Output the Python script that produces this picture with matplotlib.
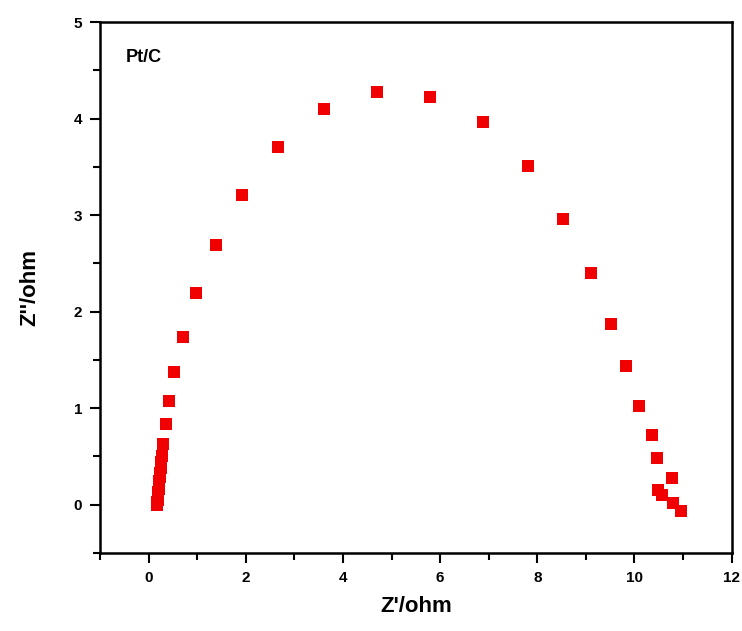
import matplotlib
matplotlib.use('Agg')
import matplotlib.pyplot as plt
from matplotlib.ticker import MultipleLocator

plt.rcParams['font.family'] = ['Liberation Sans', 'DejaVu Sans']

# Nyquist data for Pt/C
z_real = [0.17, 0.18, 0.18, 0.19, 0.19, 0.20, 0.20, 0.21, 0.22, 0.22, 0.23, 0.24, 0.25, 0.26, 0.27,
          0.30, 0.35, 0.41, 0.53, 0.70, 0.97, 1.38, 1.91, 2.67, 3.61, 4.70, 5.80, 6.88, 7.80,
          8.52, 9.11, 9.52, 9.82, 10.09, 10.36, 10.46, 10.77, 10.48, 10.56, 10.79, 10.95]
z_imag = [0.00, 0.02, 0.03, 0.05, 0.07, 0.10, 0.13, 0.16, 0.20, 0.24, 0.28, 0.33, 0.38, 0.44, 0.50,
          0.63, 0.83, 1.07, 1.37, 1.74, 2.19, 2.69, 3.21, 3.71, 4.10, 4.28, 4.22, 3.96, 3.51,
          2.96, 2.40, 1.87, 1.44, 1.02, 0.72, 0.48, 0.27, 0.15, 0.10, 0.02, -0.07]

fig = plt.figure(figsize=(7.42, 6.31), dpi=100)
ax = fig.add_axes([0.135, 0.124, 0.851, 0.841])
ax.plot(z_real, z_imag, linestyle='none', marker='s', markersize=8, color='#f00000', markeredgewidth=0)

ax.set_xlim(-1, 12)
ax.set_ylim(-0.5, 5)
ax.xaxis.set_major_locator(MultipleLocator(2))
ax.xaxis.set_minor_locator(MultipleLocator(1))
ax.yaxis.set_major_locator(MultipleLocator(1))
ax.yaxis.set_minor_locator(MultipleLocator(0.5))
ax.tick_params(which='both', direction='out', width=1.5)
ax.tick_params(which='major', length=7, labelsize=11, pad=6)
ax.tick_params(which='minor', length=5)
for lab in ax.get_xticklabels() + ax.get_yticklabels():
    lab.set_fontweight('bold')
for s in ax.spines.values():
    s.set_linewidth(1.8)

ax.set_xlabel("Z'/ohm", fontsize=16, fontweight='bold', labelpad=8)
ax.set_ylabel("Z''/ohm", fontsize=16, fontweight='bold', labelpad=24)
ax.text(0.04, 0.934, 'Pt/C', transform=ax.transAxes, fontsize=13, fontweight='bold', va='center', ha='left')

fig.savefig('out.png', dpi=100)
